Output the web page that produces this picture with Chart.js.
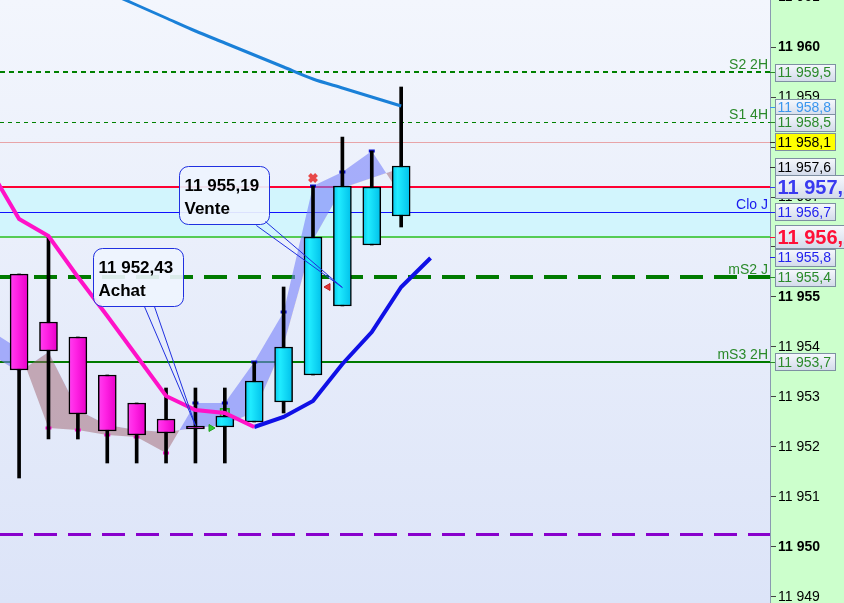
<!DOCTYPE html>
<html>
<head>
<meta charset="utf-8">
<script src="https://cdn.jsdelivr.net/npm/chart.js@4.4.1/dist/chart.umd.min.js"></script>
<style>
  html, body { margin: 0; padding: 0; background: #fff; }
  #chart { display: block; }
</style>
</head>
<body>
<canvas id="chart" width="844" height="603"></canvas>
<script>
// candles (one slot per bar)
const candleX = [0, 1, 2, 3, 4, 5, 6, 7, 8, 9, 10, 11, 12, 13];
const opens  = [11955.46, 11954.5, 11954.2, 11953.44, 11952.88, 11952.56, 11952.42, 11952.4, 11952.5, 11952.9, 11953.44, 11954.82, 11956.04, 11956.62];
const highs  = [11955.46, 11956.2, 11954.2, 11953.44, 11952.88, 11953.18, 11953.18, 11953.18, 11953.7, 11955.2, 11957.22, 11958.2, 11957.92, 11959.2];
const lows   = [11951.38, 11952.16, 11952.16, 11951.68, 11951.68, 11951.68, 11951.68, 11951.68, 11952.5, 11952.68, 11953.44, 11954.82, 11956.04, 11956.4];
const closes = [11953.54, 11953.92, 11952.66, 11952.32, 11952.24, 11952.28, 11952.36, 11952.62, 11953.32, 11954.0, 11956.2, 11957.22, 11957.2, 11957.62];

// moving average, falling part (magenta) and rising part (blue)
const maDownX = [-1, 0, 1, 2, 3, 4, 5, 6, 7, 8];
const maDown  = [11957.56, 11956.56, 11956.22, 11955.4, 11954.62, 11953.82, 11953.02, 11952.74, 11952.68, 11952.4];
const maUpX   = [8, 9, 10, 11, 12, 13, 14];
const maUp    = [11952.4, 11952.6, 11952.92, 11953.66, 11954.3, 11955.2, 11955.78];

// slow average (top)
const slowX  = [3, 4, 5, 6, 7, 8, 9, 10, 11, 12, 13];
const slowMa = [11961.1, 11960.84, 11960.58, 11960.32, 11960.08, 11959.84, 11959.6, 11959.36, 11959.18, 11959.0, 11958.82];

// ribbon between two lines
const ribbonX = [-1, 0, 1, 2, 3, 4, 5, 6, 7, 8, 9, 10, 11, 12, 13];
const ribbonA = [11954.34, 11953.96, 11952.38, 11952.34, 11952.24, 11952.2, 11951.88, 11952.88, 11952.88, 11953.7, 11954.7, 11957.22, 11957.5, 11957.92, 11957.02];
const ribbonB = [11953.86, 11953.5, 11953.9, 11952.74, 11952.44, 11952.34, 11952.3, 11952.38, 11952.44, 11952.7, 11954.04, 11956.14, 11957.18, 11957.38, 11957.58];

// horizontal levels
const levelValues = [11959.5, 11958.5, 11958.1, 11957.2, 11956.7, 11956.2, 11955.4, 11953.7, 11950.26];
const levelNames  = ["S2 2H", "S1 4H", "", "", "Clo J", "", "mS2 J", "mS3 2H", ""];
const bandRange   = [11956.2, 11957.2];

// price tags on the axis
const tagValues = [11959.5, 11958.8, 11958.5, 11958.1, 11957.6, 11956.7, 11955.8, 11955.4, 11953.7, 11957.2, 11956.2];
const tagDigits = [1, 1, 1, 1, 1, 1, 1, 1, 1, 1, 1];

// signals
const signalX     = [6, 11];
const signalPrice = [11952.43, 11955.19];
const signalNames = ["Achat", "Vente"];

// small markers
const crossPt = [{ x: 10, y: 11957.38 }];
const triLeftPt = [{ x: 10.51, y: 11955.2 }];
const triRightPt = [{ x: 6.53, y: 11952.38 }];
const squarePt = [{ x: 7, y: 11952.68 }];

const yTicks = [11949, 11950, 11951, 11952, 11953, 11954, 11955, 11956, 11957, 11958, 11959, 11960, 11961];

// styles
const levelStyles = [
  { color: "#008000", width: 2, dash: [5, 4] },
  { color: "#008000", width: 1, dash: [4, 4] },
  { color: "#e8a4a8", width: 1, dash: [] },
  { color: "#ff0033", width: 2, dash: [] },
  { color: "#1010ff", width: 1, dash: [] },
  { color: "#55cc55", width: 2, dash: [] },
  { color: "#007a00", width: 4, dash: [23, 11] },
  { color: "#007a00", width: 2, dash: [] },
  { color: "#8800cc", width: 3, dash: [23, 11] },
];
const nameColors = ["#2a8a2a", "#2a8a2a", "", "", "#1a1aee", "", "#2a8a2a", "#2a8a2a", ""];
const tagStyles = [
  { color: "#2a8a2a" }, { color: "#3a96ee" }, { color: "#2a8a2a" },
  { color: "#000", fill: "#ffff00" }, { color: "#000" }, { color: "#2222ee" },
  { color: "#2222ee" }, { color: "#2a8a2a" }, { color: "#2a8a2a" },
  { color: "#3a3af0", big: true }, { color: "#ff1038", big: true },
];
const calloutOffsets = [{ dx: -102, dy: -177, p1: [-51, -119], p2: [-41, -119] },
                        { dx: -163, dy: -121, p1: [-86, -62], p2: [-77, -66] }];

const FONT = "'Liberation Sans', Arial, sans-serif";

function fmt(v, d) {
  const parts = v.toFixed(d).split(".");
  const int = parts[0].replace(/\B(?=(\d{3})+(?!\d))/g, " ");
  return parts.length > 1 ? int + "," + parts[1] : int;
}

function bodyColor(c) {
  const chart = c.chart;
  const i = c.dataIndex;
  const up = closes[i] >= opens[i];
  if (!chart.chartArea) return up ? "#10d8f8" : "#ff30e0";
  const px = chart.scales.x.getPixelForValue(candleX[i]);
  const g = chart.ctx.createLinearGradient(px - 9, 0, px + 9, 0);
  if (up) {
    g.addColorStop(0, "#08c8ee");
    g.addColorStop(0.3, "#20ecff");
    g.addColorStop(1, "#00c0ea");
  } else {
    g.addColorStop(0, "#ff40f0");
    g.addColorStop(0.4, "#ff22e4");
    g.addColorStop(1, "#e800c8");
  }
  return g;
}

const decor = {
  id: "decor",
  beforeDraw(chart) {
    const { ctx, chartArea: a, width, height } = chart;
    ctx.save();
    const g = ctx.createLinearGradient(0, a.top, 0, a.bottom);
    g.addColorStop(0, "#f3f6fd");
    g.addColorStop(1, "#dce4f8");
    ctx.fillStyle = g;
    ctx.fillRect(a.left, a.top, a.right - a.left, a.bottom - a.top);
    ctx.fillStyle = "#ccffcc";
    ctx.fillRect(a.right, 0, width - a.right, height);
    ctx.restore();
  },
  beforeDatasetsDraw(chart) {
    const { ctx, chartArea: a } = chart;
    const y = chart.scales.y;
    ctx.save();
    const b1 = y.getPixelForValue(bandRange[1]);
    const b0 = y.getPixelForValue(bandRange[0]);
    ctx.fillStyle = "#d2f5fd";
    ctx.fillRect(a.left, b1, a.right - a.left, b0 - b1);
    levelValues.forEach((v, i) => {
      const st = levelStyles[i];
      const py = Math.round(y.getPixelForValue(v)) + (st.width % 2 ? 0.5 : 0);
      ctx.strokeStyle = st.color;
      ctx.lineWidth = st.width;
      ctx.setLineDash(st.dash);
      ctx.beginPath();
      ctx.moveTo(a.left, py);
      ctx.lineTo(a.right, py);
      ctx.stroke();
    });
    ctx.setLineDash([]);
    ctx.font = "14px " + FONT;
    ctx.textAlign = "right";
    ctx.textBaseline = "alphabetic";
    levelValues.forEach((v, i) => {
      if (!levelNames[i]) return;
      ctx.fillStyle = nameColors[i];
      ctx.fillText(levelNames[i], a.right - 2, y.getPixelForValue(v) - 3);
    });
    ctx.restore();
  },
  afterDatasetsDraw(chart) {
    const { ctx } = chart;
    const x = chart.scales.x, y = chart.scales.y;
    ctx.save();
    signalX.forEach((sx, i) => {
      const px = x.getPixelForValue(sx), py = y.getPixelForValue(signalPrice[i]);
      const o = calloutOffsets[i];
      const bx = Math.round(px + o.dx) + 0.5, by = Math.round(py + o.dy) + 0.5;
      const w = 90, h = 58, r = 9;
      ctx.beginPath();
      ctx.roundRect(bx, by, w, h, r);
      ctx.fillStyle = "rgba(238,244,254,0.92)";
      ctx.fill();
      ctx.strokeStyle = "#2030e0";
      ctx.lineWidth = 1;
      ctx.beginPath();
      ctx.moveTo(px + o.p1[0], py + o.p1[1]);
      ctx.lineTo(px, py);
      ctx.lineTo(px + o.p2[0], py + o.p2[1]);
      ctx.stroke();
      ctx.beginPath();
      ctx.roundRect(bx, by, w, h, r);
      ctx.stroke();
      ctx.fillStyle = "#000";
      ctx.font = "bold 17px " + FONT;
      ctx.textAlign = "left";
      ctx.textBaseline = "alphabetic";
      ctx.fillText(fmt(signalPrice[i], 2), bx + 5, by + 24);
      ctx.fillText(signalNames[i], bx + 5, by + 47);
    });
    ctx.restore();
  },
  afterDraw(chart) {
    const { ctx, chartArea: a } = chart;
    const y = chart.scales.y;
    ctx.save();
    tagValues.forEach((v, i) => {
      const st = tagStyles[i];
      const py = y.getPixelForValue(v);
      const h = st.big ? 23 : 17, w = st.big ? 84 : 60;
      const bx = a.right + 5.5, by = Math.round(py - h / 2) + 0.5;
      // colored tick
      ctx.strokeStyle = st.color === "#000" ? "#333" : st.color;
      ctx.lineWidth = 1;
      ctx.beginPath();
      ctx.moveTo(a.right, Math.round(py) + 0.5);
      ctx.lineTo(a.right + 5, Math.round(py) + 0.5);
      ctx.stroke();
      let fill;
      if (st.fill) {
        fill = st.fill;
      } else {
        fill = ctx.createLinearGradient(0, by, 0, by + h);
        fill.addColorStop(0, "#f6f8fd");
        fill.addColorStop(1, "#d3dbea");
      }
      ctx.fillStyle = fill;
      ctx.fillRect(bx, by, w, h);
      ctx.strokeStyle = "#7e90a2";
      ctx.strokeRect(bx, by, w, h);
      ctx.fillStyle = st.color;
      ctx.font = (st.big ? "bold 20px " : "14px ") + FONT;
      ctx.textAlign = "left";
      ctx.textBaseline = "middle";
      ctx.fillText(fmt(v, tagDigits[i]), bx + 2, py + 1);
    });
    ctx.restore();
  },
};

new Chart(document.getElementById("chart"), {
  type: "bar",
  data: {
    datasets: [
      {
        type: "line",
        label: "ribbonA",
        data: ribbonX.map((x, i) => ({ x, y: ribbonA[i] })),
        borderColor: "transparent",
        borderWidth: 0,
        fill: { target: 1, above: "rgba(118,128,250,0.6)", below: "rgba(160,100,112,0.5)" },
        pointStyle: "line",
        pointRadius: 3,
        pointBorderWidth: 3,
        pointBorderColor: ribbonX.map((x, i) => (ribbonA[i] >= ribbonB[i] ? "#0a10d0" : "#ff10d0")),
        tension: 0,
        order: 10,
      },
      {
        type: "line",
        label: "ribbonB",
        data: ribbonX.map((x, i) => ({ x, y: ribbonB[i] })),
        borderColor: "transparent",
        borderWidth: 0,
        pointRadius: 0,
        fill: false,
        order: 11,
      },
      {
        label: "wicks",
        data: candleX.map((x, i) => ({ x, y: [lows[i], highs[i]] })),
        backgroundColor: "#000",
        borderWidth: 0,
        barThickness: 3,
        grouped: false,
        order: 5,
      },
      {
        label: "bodies",
        data: candleX.map((x, i) => ({ x, y: [opens[i], closes[i]] })),
        backgroundColor: bodyColor,
        borderColor: "#000",
        borderWidth: 1.5,
        borderSkipped: false,
        barThickness: 18,
        grouped: false,
        order: 4,
      },
      {
        type: "line",
        label: "slow",
        data: slowX.map((x, i) => ({ x, y: slowMa[i] })),
        borderColor: "#1a80d8",
        borderWidth: 3,
        pointRadius: 0,
        tension: 0.3,
        order: 2,
      },
      {
        type: "line",
        label: "maDown",
        data: maDownX.map((x, i) => ({ x, y: maDown[i] })),
        borderColor: "#ff12c8",
        borderWidth: 4,
        pointRadius: 0,
        order: 2,
      },
      {
        type: "line",
        label: "maUp",
        data: maUpX.map((x, i) => ({ x, y: maUp[i] })),
        borderColor: "#1010e6",
        borderWidth: 4,
        pointRadius: 0,
        order: 2,
      },
      {
        type: "scatter",
        data: crossPt,
        pointStyle: "crossRot",
        pointRadius: 5,
        pointBorderWidth: 4,
        pointBorderColor: "#e84848",
        order: 1,
      },
      {
        type: "scatter",
        data: triLeftPt,
        pointStyle: "triangle",
        rotation: -90,
        pointRadius: 4,
        pointBackgroundColor: "#e03838",
        pointBorderColor: "#c02020",
        pointBorderWidth: 1,
        order: 1,
      },
      {
        type: "scatter",
        data: triRightPt,
        pointStyle: "triangle",
        rotation: 90,
        pointRadius: 4,
        pointBackgroundColor: "#30cc30",
        pointBorderColor: "#20a020",
        pointBorderWidth: 1,
        order: 1,
      },
      {
        type: "scatter",
        data: squarePt,
        pointStyle: "rect",
        pointRadius: 6,
        pointBackgroundColor: "rgba(60,200,60,0.35)",
        pointBorderColor: "#22aa22",
        pointBorderWidth: 1.5,
        order: 6,
      },
    ],
  },
  options: {
    responsive: false,
    animation: false,
    layout: { padding: 0, autoPadding: false },
    plugins: { legend: { display: false }, tooltip: { enabled: false } },
    scales: {
      x: { type: "linear", min: -0.65, max: 25.55, display: false, offset: false },
      y: {
        position: "right",
        min: 11948.88,
        max: 11960.94,
        afterBuildTicks: (s) => { s.ticks = yTicks.map((v) => ({ value: v })); },
        afterFit: (s) => { s.width = 74; s.paddingTop = 0; s.paddingBottom = 0; },
        ticks: {
          padding: 2,
          color: "#000",
          callback: (v) => fmt(v, 0),
          font: (c) => ({ family: FONT, size: 14, weight: c.tick && c.tick.value % 5 === 0 ? "bold" : "normal" }),
        },
        grid: { drawOnChartArea: false, tickLength: 6, color: "#444" },
        border: { display: true, color: "#8a9ab0" },
      },
    },
  },
  plugins: [decor],
});
</script>
</body>
</html>
